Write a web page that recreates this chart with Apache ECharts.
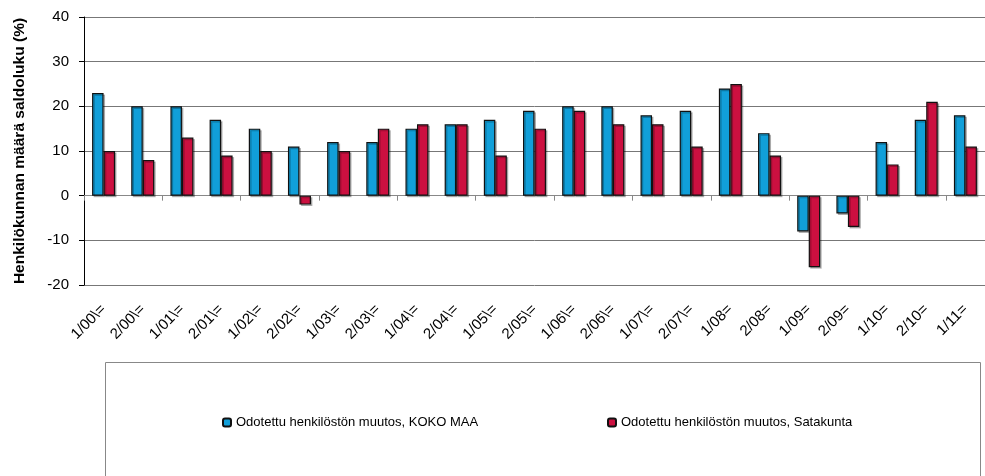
<!DOCTYPE html>
<html><head><meta charset="utf-8">
<script src="https://cdn.jsdelivr.net/npm/echarts@6/dist/echarts.min.js"></script>
<style>html,body{margin:0;padding:0;background:#fff}#c{width:985px;height:476px}</style>
</head><body><div id="c"></div>
<script>
var categories = ["1/00\\=","2/00\\=","1/01\\=","2/01\\=","1/02\\=","2/02\\=","1/03\\=","2/03\\=","1/04\\=","2/04\\=","1/05\\=","2/05\\=","1/06\\=","2/06\\=","1/07\\=","2/07\\=","1/08=","2/08=","1/09=","2/09=","1/10=","2/10=","1/11="];
var kokoMaa = [23,20,20,17,15,11,12,12,15,16,17,19,20,20,18,19,24,14,-8,-4,12,17,18];
var satakunta = [10,8,13,9,10,-2,10,15,16,16,9,15,19,16,16,11,25,9,-16,-7,7,21,11];
var seriesNames = ["Odotettu henkilöstön muutos, KOKO MAA","Odotettu henkilöstön muutos, Satakunta"];
var yAxisName = "Henkilökunnan määrä saldoluku (%)";

var chart = echarts.init(document.getElementById('c'));
var font = 'Liberation Sans, Arial, sans-serif';
chart.setOption({
  animation: false,
  textStyle: {fontFamily: font},
  grid: {left: 84, top: 17, width: 904, height: 268},
  graphic: [{type: 'rect', shape: {x: 105.5, y: 362.5, width: 875, height: 140}, style: {fill: 'none', stroke: '#888', lineWidth: 1}}],
  legend: [
    {data: [seriesNames[0]], left: 217, top: 411, itemWidth: 8, itemHeight: 8, itemGap: 4, textStyle: {fontSize: 13, color: '#000', fontFamily: font}},
    {data: [seriesNames[1]], left: 602, top: 411, itemWidth: 8, itemHeight: 8, itemGap: 4, textStyle: {fontSize: 13, color: '#000', fontFamily: font}}
  ],
  xAxis: [
    {type: 'category', data: categories, position: 'bottom', axisLine: {show: false, onZero: false}, axisTick: {show: false},
     axisLabel: {rotate: 45, fontSize: 15, color: '#000', margin: 22, interval: 0, fontFamily: font}, splitLine: {show: false}},
    {type: 'category', data: categories, position: 'bottom', axisLine: {show: true, onZero: true, lineStyle: {color: '#888'}},
     axisTick: {show: true, length: 5, lineStyle: {color: '#888'}}, axisLabel: {show: false}, splitLine: {show: false}}
  ],
  yAxis: {
    type: 'value', min: -20, max: 40, interval: 10,
    name: yAxisName, nameLocation: 'middle', nameGap: 56,
    nameTextStyle: {fontSize: 15.5, fontWeight: 'bold', color: '#000', fontFamily: font},
    axisLine: {show: true, lineStyle: {color: '#000'}},
    axisTick: {show: true, length: 5, lineStyle: {color: '#000'}},
    axisLabel: {fontSize: 15, color: '#000', margin: 15, fontFamily: font},
    splitLine: {show: true, lineStyle: {color: '#777'}}
  },
  series: [
    {name: seriesNames[0], type: 'bar', data: kokoMaa, xAxisIndex: 0, barWidth: 11.5, barGap: '0%',
     itemStyle: {color: '#119fd9', borderColor: '#111', borderWidth: 1.2, shadowColor: 'rgba(0,0,0,0.25)', shadowOffsetX: 1.5, shadowOffsetY: 1.5}},
    {name: seriesNames[1], type: 'bar', data: satakunta, xAxisIndex: 0, barWidth: 11.5, barGap: '0%',
     itemStyle: {color: '#cc1040', borderColor: '#111', borderWidth: 1.2, shadowColor: 'rgba(0,0,0,0.25)', shadowOffsetX: 1.5, shadowOffsetY: 1.5}}
  ]
});
</script></body></html>
